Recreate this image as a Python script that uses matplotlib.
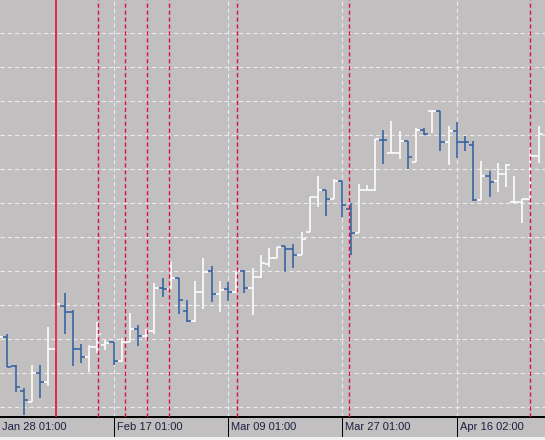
import matplotlib
matplotlib.use('Agg')
import matplotlib.pyplot as plt
import numpy as np
from matplotlib.patches import Rectangle

plt.rcParams['font.family'] = ['Liberation Sans', 'DejaVu Sans']

# daily OHLC bars, bar index -1 .. 65 (price units: one grid step = 10)
bars = np.arange(-1, 66)
opens = [118.2, 120.7, 112.1, 104.7, 101.4, 109.9, 107.4, 117.0, 129.8, 127.9,
         117.0, 114.6, 117.6, 118.2, 119.0, 113.4, 119.1, 122.9, 120.8, 122.4,
         134.9, 134.6, 137.9, 128.2, 125.3, 133.7, 139.9, 133.1, 134.6, 133.7,
         139.9, 134.9, 138.1, 142.0, 143.7, 147.3, 146.6, 144.8, 151.4, 161.7,
         163.7, 161.3, 166.5, 158.1, 151.2, 163.7, 163.7, 178.6, 174.6, 174.6,
         178.1, 172.0, 181.5, 187.0, 187.0, 177.9, 181.1, 177.9, 177.1, 160.8,
         167.9, 166.6, 168.5, 160.3, 160.3, 161.1, 173.8]
highs = [122.6, 121.5, 112.4, 105.5, 112.4, 112.4, 123.5, 131.5, 133.5, 128.5,
         118.5, 118.1, 125.1, 119.7, 119.2, 120.2, 127.7, 124.1, 122.9, 136.4,
         137.9, 142.9, 138.0, 131.5, 137.1, 143.8, 141.5, 137.1, 136.8, 140.0,
         140.3, 140.8, 144.7, 146.7, 147.1, 147.4, 147.9, 151.5, 161.7, 168.0,
         163.7, 167.0, 166.5, 159.9, 165.7, 165.3, 178.9, 181.5, 184.1, 181.2,
         178.2, 182.0, 182.0, 187.1, 187.1, 182.6, 183.9, 179.7, 178.3, 172.4,
         169.4, 171.9, 171.6, 167.9, 161.1, 176.1, 182.6]
lows = [116.8, 111.7, 104.3, 97.7, 101.4, 102.7, 106.2, 116.2, 121.4, 112.1,
        112.9, 110.4, 115.8, 116.8, 112.4, 113.3, 119.1, 117.9, 120.3, 121.4,
        132.4, 134.6, 127.3, 125.1, 125.1, 128.8, 131.0, 128.0, 131.3, 133.6,
        133.6, 127.1, 137.9, 141.3, 143.7, 139.8, 141.0, 144.6, 151.4, 158.9,
        156.3, 161.1, 156.0, 144.7, 151.1, 163.7, 163.6, 171.5, 174.6, 172.9,
        170.0, 172.0, 179.9, 180.5, 175.4, 171.3, 173.3, 175.4, 160.6, 160.8,
        161.9, 163.3, 164.6, 160.1, 154.2, 160.9, 171.7]
closes = [120.7, 111.9, 106.0, 102.1, 109.9, 107.3, 117.0, 130.2, 127.9, 117.0,
          114.6, 117.6, 121.4, 118.8, 113.4, 119.1, 122.9, 120.8, 122.4, 134.9,
          134.7, 137.9, 131.4, 125.3, 133.7, 139.8, 133.1, 134.3, 133.7, 139.9,
          134.9, 138.1, 142.3, 143.7, 147.0, 146.6, 144.8, 149.3, 161.7, 163.7,
          161.3, 166.5, 159.4, 151.2, 163.7, 163.8, 178.9, 178.4, 174.7, 178.1,
          173.4, 181.5, 180.2, 187.1, 177.9, 181.1, 177.9, 177.8, 160.8, 167.9,
          166.2, 168.5, 171.3, 160.4, 161.1, 173.8, 180.2]

tick_bars = [-1, 13, 27, 41, 55]
tick_labels = ['Jan 28 01:00', 'Feb 17 01:00', 'Mar 09 01:00', 'Mar 27 01:00', 'Apr 16 02:00']
event_lines = [11.12, 14.44, 17.05, 19.75, 28.14, 41.77, 64.0]
marker_line = 6.0
levels = np.arange(100, 211, 10)

bg = '#c1bfc0'
up_col = '#ffffff'
down_col = '#3461a3'
red = '#e0103c'
grid_col = '#eaeaea'

fig = plt.figure(figsize=(5.45, 4.40), dpi=100, facecolor=bg)
ax = fig.add_axes([0, 23.5 / 440, 1, 416.5 / 440])
ax.set_facecolor(bg)
ax.set_xlim(-0.897, 65.79)
ax.set_ylim(97.21, 219.71)

for lv in levels:
    ax.axhline(lv, color=grid_col, lw=0.8, ls=(0, (4, 2.5)), zorder=1)
for b in tick_bars:
    ax.axvline(b, color=grid_col, lw=0.8, ls=(0, (4, 2.5)), zorder=1)

o = np.array(opens)
c = np.array(closes)
cols = [up_col if cc >= oo else down_col for oo, cc in zip(o, c)]
ax.vlines(bars, lows, highs, colors=cols, lw=1.15, zorder=2)
ax.hlines(o, bars - 0.5, bars, colors=cols, lw=1.15, zorder=2)
ax.hlines(c, bars, bars + 0.5, colors=cols, lw=1.15, zorder=2)

for x in event_lines:
    ax.axvline(x, color=red, lw=1.0, ls=(0, (3, 2)), zorder=3)
ax.axvline(marker_line, color=red, lw=1.2, zorder=3)

for s in ['top', 'left', 'right']:
    ax.spines[s].set_visible(False)
ax.spines['bottom'].set_color('black')
ax.spines['bottom'].set_linewidth(1.44)
ax.set_yticks([])
ax.set_xticks(tick_bars[1:])
ax.tick_params(axis='x', direction='out', length=14.4, width=0.72,
               colors='black', labelbottom=False)

for b, t in zip(tick_bars, tick_labels):
    ax.annotate(t, xy=(b, 0), xycoords=('data', 'axes fraction'),
                xytext=(3, -10), textcoords='offset pixels',
                ha='left', va='center', fontsize=8, color='#1b2142',
                annotation_clip=False)

fig.patches.append(Rectangle((0, 0), 1, 3 / 440, transform=fig.transFigure,
                             facecolor='#f0f0f0', edgecolor='none'))

fig.savefig('out.png', dpi=100, facecolor=bg)
